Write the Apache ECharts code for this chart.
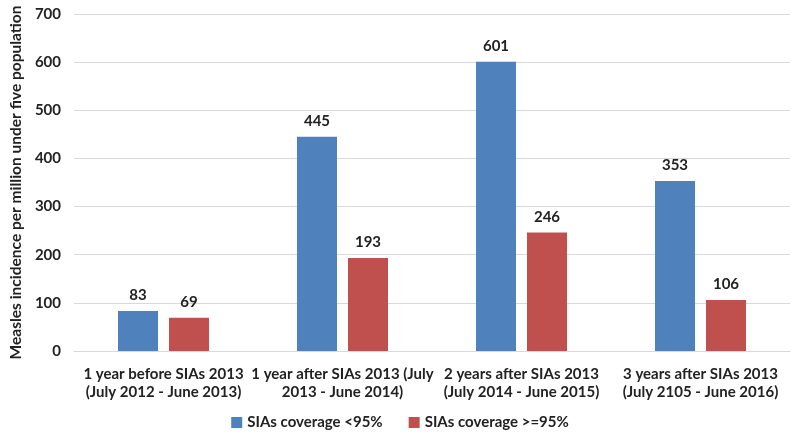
<!DOCTYPE html>
<html><head><meta charset="utf-8">
<script src="https://cdn.jsdelivr.net/npm/echarts@6/dist/echarts.min.js"></script>
<style>html,body{margin:0;padding:0;background:#fff}#c{width:800px;height:440px}</style>
</head><body><div id="c"></div>
<script>
var categories = [
  "1 year before SIAs 2013\n(July 2012 - June 2013)",
  "1 year after SIAs 2013 (July\n2013 - June 2014)",
  "2 years after SIAs 2013\n(July 2014 - June 2015)",
  "3 years after SIAs 2013\n(July 2105 - June 2016)"
];
var seriesNames = ["SIAs coverage <95%", "SIAs coverage >=95%"];
var below95 = [83, 445, 601, 353];
var above95 = [69, 193, 246, 106];
var yTicks = {min: 0, max: 700, interval: 100};

var font = "Lato, 'Liberation Sans', sans-serif";
var chart = echarts.init(document.getElementById('c'));
chart.setOption({
  animation: false,
  textStyle: {fontFamily: font},
  grid: {left: 67, right: 10, top: 14, bottom: 89},
  legend: {
    bottom: 5, left: 'center', itemWidth: 11, itemHeight: 11, itemGap: 26,
    icon: 'rect',
    textStyle: {fontFamily: font, fontSize: 15, fontWeight: 'bold', color: '#222'},
    data: seriesNames
  },
  xAxis: {
    type: 'category', data: categories,
    axisTick: {show: false},
    axisLine: {lineStyle: {color: '#d9d9d9', width: 1}},
    axisLabel: {fontFamily: font, fontSize: 15, fontWeight: 'bold', color: '#222', lineHeight: 18, margin: 14, interval: 0}
  },
  yAxis: {
    type: 'value', min: yTicks.min, max: yTicks.max, interval: yTicks.interval,
    name: 'Measles incidence per million under five population',
    nameLocation: 'middle', nameGap: 47, nameRotate: 90,
    nameTextStyle: {fontFamily: font, fontSize: 15.5, fontWeight: 'bold', color: '#222'},
    axisLine: {show: false}, axisTick: {show: false},
    splitLine: {lineStyle: {color: '#d9d9d9'}},
    axisLabel: {fontFamily: font, fontSize: 15, fontWeight: 'bold', color: '#222', margin: 13}
  },
  series: [
    {name: seriesNames[0], type: 'bar', data: below95, barWidth: 40, barGap: '27.5%',
     itemStyle: {color: '#4F81BD'},
     label: {show: true, position: 'top', distance: 8, fontFamily: font, fontSize: 15, fontWeight: 'bold', color: '#222'}},
    {name: seriesNames[1], type: 'bar', data: above95, barWidth: 40,
     itemStyle: {color: '#C0504D'},
     label: {show: true, position: 'top', distance: 8, fontFamily: font, fontSize: 15, fontWeight: 'bold', color: '#222'}}
  ]
});
</script></body></html>
